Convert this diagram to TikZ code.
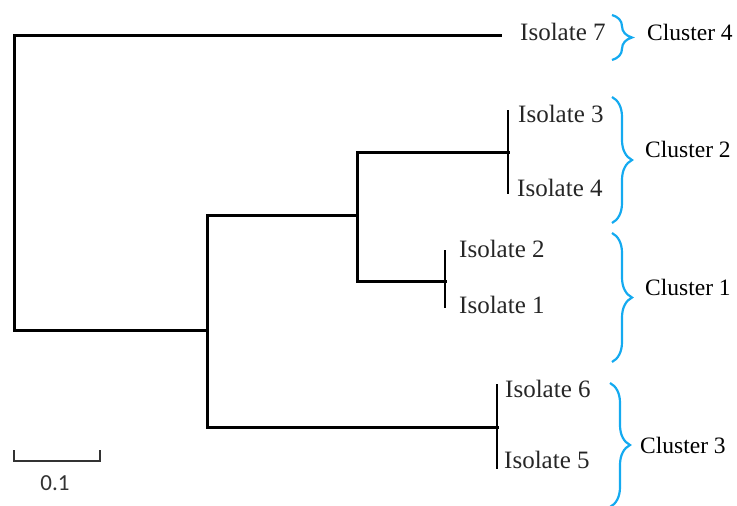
\documentclass[tikz,border=0pt]{standalone}
\usepackage{fontspec}
\setmainfont{Liberation Serif}
\newfontfamily\scalefont{Carlito}
\usetikzlibrary{decorations.pathreplacing}
\definecolor{braceblue}{RGB}{20,170,240}
\begin{document}
\begin{tikzpicture}[x=1pt,y=-1pt,
  branch/.style={line width=3pt,line cap=rect},
  tipline/.style={line width=1.3pt},
  iso/.style={anchor=base west,inner sep=0pt,font=\fontsize{25}{28}\selectfont,text=black!85},
  clus/.style={anchor=base west,inner sep=0pt,font=\fontsize{23.5}{28}\selectfont},
  cbrace/.style={braceblue,line width=2.2pt,decorate,decoration={brace,amplitude=20pt}},
  sbar/.style={line width=2pt,black!80}]
\useasboundingbox (0,0) rectangle (737,506);
% branch points
\coordinate (r)  at (14,35);
\coordinate (rb) at (14,330);
\coordinate (a)  at (207,330);
\coordinate (at) at (207,215);
\coordinate (ab) at (207,427);
\coordinate (b)  at (357,215);
\coordinate (bt) at (357,152);
\coordinate (bb) at (357,281);
\coordinate (l7) at (500,35);
\coordinate (c)  at (508,152);
\coordinate (ct) at (508,110);
\coordinate (cb) at (508,194);
\coordinate (d)  at (445,281);
\coordinate (dt) at (445,250);
\coordinate (db) at (445,308);
\coordinate (e)  at (497,427);
\coordinate (et) at (497,384);
\coordinate (eb) at (497,469);
% tree
\draw[branch] (l7) -- (r) -- (rb) -- (a);
\draw[branch] (at) -- (ab);
\draw[branch] (at) -- (b);
\draw[branch] (bt) -- (bb);
\draw[branch] (bt) -- (c);
\draw[branch] (bb) -- (d);
\draw[branch] (ab) -- (e);
\draw[tipline] (ct) -- (cb);
\draw[tipline] (dt) -- (db);
\draw[tipline] (et) -- (eb);
% labels
\node[iso] (i7) at (520,41) {Isolate 7};
\node[iso] (i3) at (518,122) {Isolate 3};
\node[iso] (i4) at (517,196) {Isolate 4};
\node[iso] (i2) at (459,257) {Isolate 2};
\node[iso] (i1) at (459,313) {Isolate 1};
\node[iso] (i6) at (505,397) {Isolate 6};
\node[iso] (i5) at (504,468) {Isolate 5};
% braces
\draw[cbrace] (612,15) -- (612,60);
\draw[cbrace] (612,97) -- (612,223);
\draw[cbrace] (612,233) -- (612,362);
\draw[cbrace] (610,383) -- (610,507);
\node[clus] (k4) at (647,40) {Cluster 4};
\node[clus] (k2) at (645,157) {Cluster 2};
\node[clus] (k1) at (645,295) {Cluster 1};
\node[clus] (k3) at (640,453) {Cluster 3};
% scale bar
\coordinate (s1) at (14,450);
\coordinate (s2) at (14,461);
\coordinate (s3) at (100,461);
\coordinate (s4) at (100,450);
\draw[sbar] (s1) -- (s2) -- (s3) -- (s4);
\node[inner sep=0pt,anchor=base,font=\scalefont\fontsize{23}{26}\selectfont,text=black!80] (sl) at (55,490) {0.1};
\end{tikzpicture}
\end{document}
